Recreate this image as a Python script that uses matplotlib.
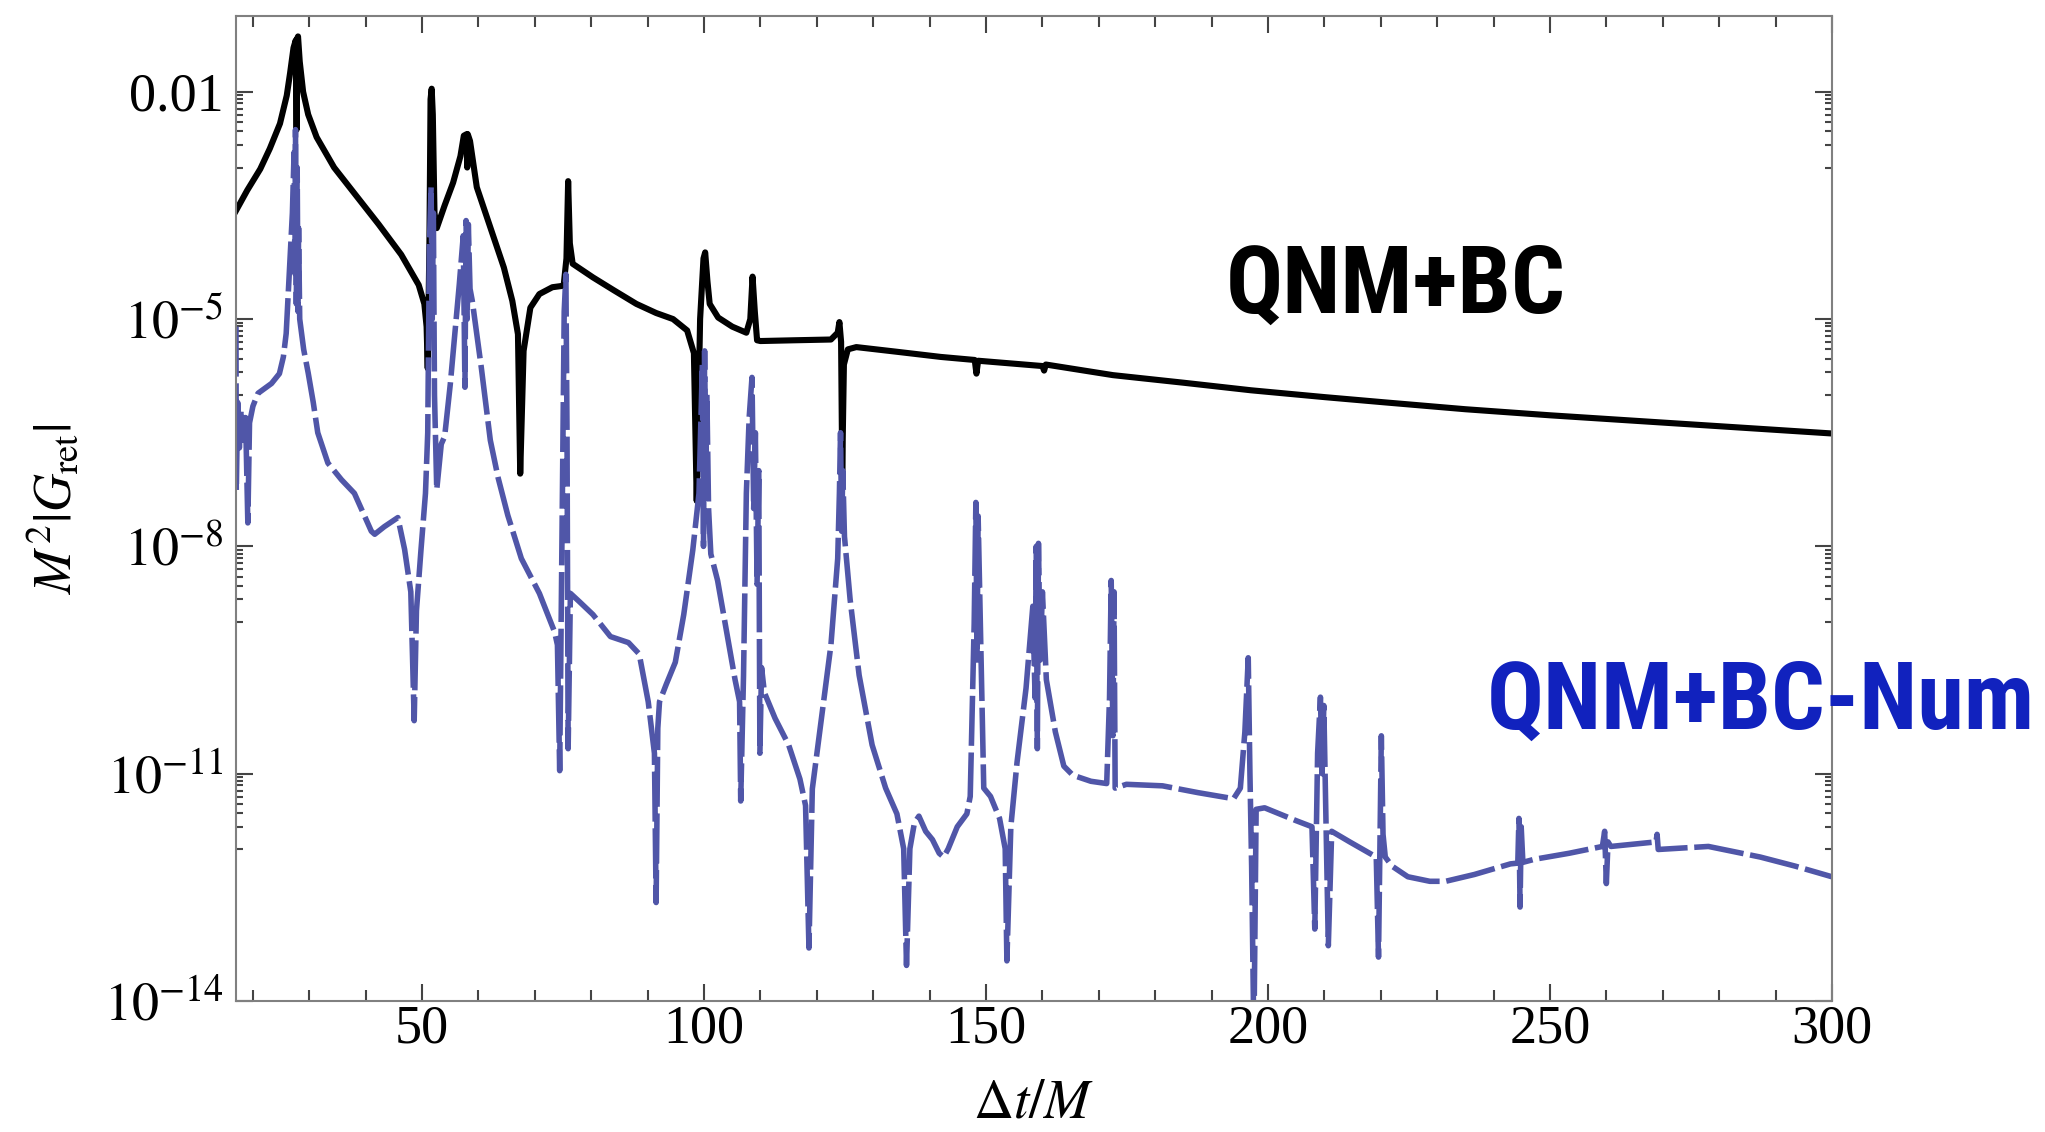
import os
import numpy as np
import matplotlib
matplotlib.use("Agg")
import matplotlib.pyplot as plt
from matplotlib import font_manager as fm
from matplotlib.ticker import FixedLocator, NullFormatter

plt.rcParams['font.family'] = ['Liberation Serif', 'DejaVu Serif']
plt.rcParams['mathtext.fontset'] = 'stix'

# QNM+BC curve (solid black): time and log10 of M^2|G_ret|
qnm_t = [17.0, 19.0, 21.3, 23.0, 24.8, 26.0, 26.6, 27.2, 27.6, 27.75, 27.85, 28.0,
         28.3, 28.9, 29.8, 31.3, 34.4, 38.4, 42.3, 46.3, 49.4, 50.4,
         50.8, 51.0, 51.3, 51.5, 51.7, 51.9, 52.2, 52.6, 54.0, 55.5, 56.8, 57.4,
         57.9, 58.0, 58.1, 58.5, 59.7, 62.1, 64.5, 66.0, 67.0, 67.4, 68.0, 69.2,
         70.8, 73.1, 75.1, 75.6, 75.9, 76.2, 76.7, 80.3, 84.0, 88.0, 91.5, 94.5,
         97.0, 98.2, 98.7, 99.3, 99.9, 100.2, 100.6, 101.0, 102.5, 105.0, 107.5,
         108.2, 108.6, 109.0, 109.4, 110.0, 116.0, 122.5, 123.7, 124.0, 124.3,
         124.5, 124.8, 125.5, 127.0, 134.0, 142.0, 148.0, 148.3, 148.6, 160.0,
         160.3, 160.6, 172.5, 185.0, 197.0, 210.0, 220.8, 235.0, 250.0, 275.0,
         300.0]
qnm_log = [-3.57, -3.3, -3.02, -2.75, -2.42, -2.05, -1.75, -1.42, -1.32, -2.5, -1.3,
           -1.27, -1.6, -2.0, -2.3, -2.6, -3.0, -3.38, -3.75, -4.15, -4.55, -4.8,
           -5.1, -5.65, -4.0, -2.1, -1.96, -2.3, -3.6, -3.8, -3.5,
           -3.2, -2.85, -2.58, -2.56, -3.0, -2.56, -2.65, -3.26, -3.79, -4.32,
           -4.76, -5.2, -7.04, -5.42, -4.85, -4.67, -4.58, -4.56, -4.2, -3.18,
           -4.0, -4.27, -4.45, -4.62, -4.8, -4.92, -5.0, -5.15, -5.45, -7.4, -5.0,
           -4.2, -4.12, -4.5, -4.8, -4.98, -5.1, -5.18, -5.0, -4.44, -4.9, -5.28,
           -5.29, -5.28, -5.27, -5.18, -5.04, -5.3, -7.0, -5.6, -5.4, -5.37,
           -5.43, -5.5, -5.54, -5.72, -5.55, -5.62, -5.68, -5.6, -5.74, -5.84,
           -5.94, -6.03, -6.1, -6.19, -6.27, -6.39, -6.51]

# QNM+BC-Num curve (dashed blue)
num_t = [17.0, 17.05, 17.3, 17.6, 17.9, 18.3, 18.7, 19.1, 19.4, 20.0, 20.9, 22.0,
         23.3, 24.7, 25.4, 25.9, 26.5, 27.0, 27.3, 27.45, 27.55, 27.7, 27.85, 28.0,
         28.1, 28.3, 29.0, 29.8, 30.7, 31.5, 33.3, 35.7, 38.0, 39.8, 41.0, 41.6,
         43.3, 45.7, 46.9, 48.0, 48.6, 49.0, 49.8, 50.6, 51.0, 51.3, 51.6, 51.8,
         52.0, 52.2, 52.6, 53.4, 54.0, 55.0, 56.6, 57.3, 57.6, 57.8, 58.0, 58.2,
         58.5, 58.9, 60.5, 62.1, 63.5, 65.2, 67.6, 70.8, 73.5, 74.0, 74.4, 74.8,
         75.2, 75.5, 75.7, 75.9, 76.3, 77.9, 80.3, 83.4, 86.6, 88.5, 90.1, 91.2,
         91.5, 91.8, 92.1, 93.3, 94.9, 96.4, 98.0, 99.1, 99.5, 99.7, 99.9, 100.1,
         100.3, 100.5, 100.8, 101.2, 102.4, 104.3, 105.5, 106.3, 106.5, 107.0,
         107.5, 108.0, 108.5, 108.8, 109.1, 109.4, 109.7, 109.9, 110.2, 110.7,
         112.6, 115.0, 117.0, 118.0, 118.6, 119.2, 121.0, 122.5, 123.7, 124.0,
         124.2, 124.4, 124.6, 124.9, 125.9, 127.5, 129.8, 132.2, 134.2, 135.4,
         135.9, 136.5, 137.3, 138.1, 139.3, 140.5, 141.7, 142.5, 143.3, 144.9,
         146.6, 147.2, 147.9, 148.2, 148.4, 148.6, 149.0, 149.6, 150.8, 152.4,
         153.4, 153.7, 154.4, 155.5, 157.1, 158.3, 158.7, 158.9, 159.1, 159.3,
         159.6, 160.0, 160.7, 162.3, 163.8, 165.4, 168.6, 171.4, 171.9, 172.2,
         172.5, 172.7, 172.9, 174.9, 181.3, 187.6, 193.9, 195.1, 195.9, 196.5,
         196.8, 197.1, 197.5, 197.9, 199.4, 205.0, 207.8, 208.3, 208.8, 209.3,
         209.6, 209.9, 210.2, 210.7, 211.3, 214.5, 219.2, 219.6, 220.1, 220.4,
         220.8, 222.0, 224.8, 228.7, 231.5, 236.6, 243.0, 244.3, 244.5, 244.7,
         244.9, 245.2, 247.2, 253.4, 259.3, 259.7, 260.0, 260.3, 260.8, 268.8,
         269.0, 269.2, 278.1, 287.3, 293.5, 300.0]
num_log = [-5.1, -7.26, -6.1, -6.7, -6.2, -6.6, -6.3, -7.69, -6.37, -6.15, -5.98,
           -5.92, -5.85, -5.72, -5.5, -5.19, -4.31, -3.6, -2.8, -4.4, -2.5, -4.8,
           -3.0, -4.9, -3.8, -5.0, -5.4, -5.71, -6.1, -6.5, -6.9, -7.12, -7.3,
           -7.6, -7.8, -7.84, -7.74, -7.62, -8.04, -8.6, -10.3, -8.85, -8.05, -7.3,
           -6.5, -4.0, -3.26, -5.0, -3.6, -6.0, -7.25, -6.65, -6.55, -5.86, -4.54,
           -3.9, -5.9, -3.7, -5.0, -3.75, -4.6, -4.76, -5.64, -6.6, -7.1, -7.59,
           -8.16, -8.62, -9.13, -9.3, -10.96, -8.0, -4.9, -4.41, -6.5, -10.67,
           -8.62, -8.73, -8.9, -9.19, -9.27, -9.42, -10.05, -10.73, -12.7, -10.4,
           -10.05, -9.82, -9.53, -8.9, -8.05, -7.3, -6.2, -5.6, -8.0, -5.42, -7.0,
           -6.0, -7.5, -8.1, -8.45, -9.25, -9.76, -10.05, -11.36, -9.7, -7.3, -6.3,
           -5.77, -7.5, -6.5, -8.5, -7.0, -10.73, -9.6, -9.93, -10.27, -10.62,
           -11.07, -11.42, -13.3, -11.2, -10.16, -9.3, -8.16, -7.3, -6.5, -7.8,
           -7.0, -7.87, -8.7, -9.7, -10.62, -11.19, -11.53, -11.99, -13.53, -11.99,
           -11.65, -11.56, -11.76, -11.87, -12.05, -12.1, -11.99, -11.7, -11.53,
           -11.3, -9.02, -7.42, -9.5, -7.6, -9.02, -11.19, -11.3, -11.59, -11.99,
           -13.47, -11.7, -10.85, -9.87, -8.79, -10.0, -8.0, -10.67, -7.96, -9.5,
           -8.6, -9.76, -10.45, -10.9, -11.02, -11.1, -11.13, -10.0, -8.45, -10.5,
           -8.6, -11.19, -11.14, -11.16, -11.25, -11.33, -11.19, -10.45, -9.47,
           -11.0, -12.22, -14.5, -11.47, -11.45, -11.62, -11.7, -13.05, -10.73,
           -9.99, -11.0, -10.1, -11.3, -13.27, -11.76, -11.9, -12.1, -13.42, -10.5,
           -11.8, -12.1, -12.22, -12.36, -12.42, -12.42, -12.33, -12.19, -12.18,
           -11.59, -12.76, -11.7, -12.17, -12.13, -12.05, -11.96, -11.76, -12.45,
           -11.9, -11.96, -11.9, -11.8, -12.0, -11.96, -12.1, -12.22, -12.36]

x_major = [50, 100, 150, 200, 250, 300]
x_minor = [20, 30, 40, 60, 70, 80, 90, 110, 120, 130, 140, 160, 170, 180, 190,
           210, 220, 230, 240, 260, 270, 280, 290]
y_major = [1e-2, 1e-5, 1e-8, 1e-11, 1e-14]
y_major_labels = ['0.01', r'$10^{-5}$', r'$10^{-8}$', r'$10^{-11}$', r'$10^{-14}$']
y_minor_decades = [-3, -6, -9, -12]


def find_condensed_bold():
    # look for a narrow / condensed bold sans face among installed fonts
    prefer = ['Liberation Sans Narrow', 'Roboto Condensed', 'Noto Sans',
              'Open Sans', 'DejaVu Sans', 'Roboto', 'Lato', 'Inter']
    found = []
    for f in fm.fontManager.ttflist:
        base = os.path.basename(f.fname).lower()
        st = str(f.stretch).lower()
        cond = ('narrow' in base or 'condensed' in base or 'narrow' in f.name.lower()
                or 'condensed' in f.name.lower() or st in ('condensed', 'semi-condensed'))
        if 'extracondensed' in base or 'extra-condensed' in st:
            cond = False
        w = f.weight if isinstance(f.weight, int) else fm.weight_dict.get(f.weight, 400)
        italic = f.style != 'normal'
        if cond and w >= 700 and not italic and 'semicondensed' not in base:
            rank = prefer.index(f.name) if f.name in prefer else len(prefer)
            found.append((rank, w != 700, f.fname))
    if found:
        found.sort()
        return fm.FontProperties(fname=found[0][2])
    return fm.FontProperties(family='DejaVu Sans', weight='bold')


fig = plt.figure(figsize=(20.45, 11.32), dpi=100)
ax = fig.add_axes([0.1154, 0.1157, 0.7804, 0.8702])

ax.plot(qnm_t, 10.0 ** np.array(qnm_log), color='black', lw=4.4,
        solid_joinstyle='round')
ax.plot(num_t, 10.0 ** np.array(num_log), color='#5056A8', lw=4.0,
        linestyle=(0, (9, 1.2)), dash_joinstyle='round')

ax.set_yscale('log')
ax.set_xlim(17, 300)
ax.set_ylim(1e-14, 0.1)

ax.xaxis.set_major_locator(FixedLocator(x_major))
ax.xaxis.set_minor_locator(FixedLocator(x_minor))
ax.yaxis.set_major_locator(FixedLocator(y_major))
ax.set_yticklabels(y_major_labels)
y_minor = [k * 10.0 ** d for d in y_minor_decades for k in range(1, 10)]
ax.yaxis.set_minor_locator(FixedLocator(y_minor))
ax.yaxis.set_minor_formatter(NullFormatter())

ax.tick_params(which='both', direction='in', top=True, right=True,
               labelsize=39, color='#444444', width=1.5)
ax.tick_params(axis='x', which='major', length=12, pad=2)
ax.tick_params(axis='x', which='minor', length=8)
ax.tick_params(axis='y', which='major', length=12, pad=9)
ax.tick_params(axis='y', which='minor', length=5)
for s in ax.spines.values():
    s.set_color('#808080')
    s.set_linewidth(1.5)

ax.set_xlabel(r'$\Delta t/M$', fontsize=40, labelpad=17)
ax.set_ylabel(r'$M^2|G_{\rm ret}|$', fontsize=38, labelpad=16)

# curve labels; shrink to the reference width if only a wide face exists
lab_prop = find_condensed_bold()
renderer = fig.canvas.get_renderer()
for txt, tx, ty, col, target_w in [('QNM+BC', 192.5, 10 ** -4.92, 'black', 340),
                                    ('QNM+BC-Num', 238.8, 10 ** -10.41, '#1122BE', 548)]:
    t = ax.text(tx, ty, txt, fontproperties=lab_prop, fontsize=72, ha='left',
                va='baseline', color=col)
    w = t.get_window_extent(renderer=renderer).width
    if w > target_w * 1.03:
        t.set_fontsize(72 * target_w / w)

fig.savefig('out.png', dpi=100)
